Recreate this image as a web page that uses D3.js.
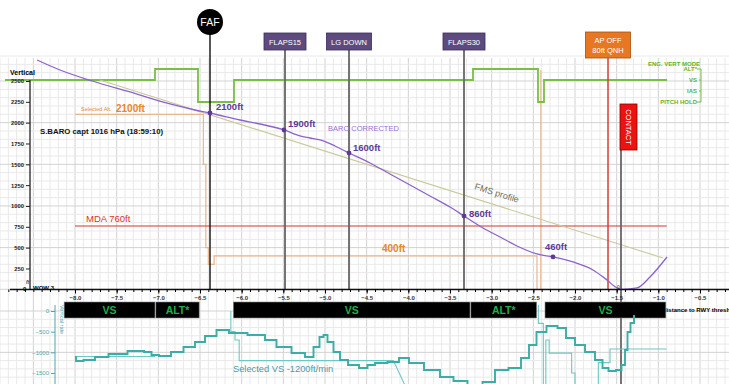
<!DOCTYPE html>
<html>
<head>
<meta charset="utf-8">
<script src="https://cdn.jsdelivr.net/npm/d3@7"></script>
<style>
  body { margin: 0; background: #fff; }
  svg { display: block; font-family: "Liberation Sans", Arial, sans-serif; }
</style>
</head>
<body>
<div id="chart"></div>
<script>
// ---- data ----
// BARO corrected altitude (ft) vs distance to RWY threshold (NM)
const baroDist = [-8.456, -8.18, -7.796, -7.34, -6.86, -6.56, -6.38, -6.02, -5.78, -5.492, -5.30, -5.18, -5.06, -4.88, -4.712, -4.46, -4.22, -3.98, -3.74, -3.50, -3.332, -3.104, -2.90, -2.696, -2.456, -2.264, -2.024, -1.784, -1.616, -1.496, -1.424, -1.256, -1.10, -0.896];
const baroAlt = [2752, 2632, 2500, 2368, 2224, 2152, 2116, 2032, 1984, 1912, 1840, 1816, 1792, 1720, 1636, 1516, 1384, 1252, 1120, 988, 880, 736, 628, 520, 424, 388, 328, 232, 112, 16, 0, 16, 148, 388];

const markDist = [-6.38, -5.492, -4.712, -3.332, -2.264];
const markAlt = [2116, 1912, 1636, 880, 388];
const markLabel = ["2100ft", "1900ft", "1600ft", "860ft", "460ft"];

const fmsDist = [-7.70, -0.944];
const fmsAlt = [2512, 376];

const selAltDist = [-8.0, -6.46, -6.46, -6.43, -6.43, -6.40, -6.40, -6.33, -6.33, -2.456, -2.456];
const selAltFt = [2100, 2100, 1500, 1500, 500, 500, 300, 300, 400, 400, 0];
const selAlt2Dist = [-2.41, -2.41];
const selAlt2Ft = [0, 2630];

const mdaFt = 760;
const mdaDist = [-8.0, -0.9];

// engaged vertical mode
const modeNames = ["ALT*", "VS", "IAS", "PITCH HOLD"];
const modeStart = [-8.84, -7.04, -6.524, -6.092, -3.224, -2.444, -2.372];
const modeCode = ["VS", "ALT*", "PITCH HOLD", "VS", "ALT*", "PITCH HOLD", "VS"];
const modeEnd = -0.896;

// FMA boxes
const fmaLabel = ["VS", "ALT*", "VS", "ALT*", "VS"];
const fmaStart = [-8.13, -7.03, -6.10, -3.25, -2.36];
const fmaEnd = [-7.04, -6.51, -3.26, -2.46, -0.91];

// events
const eventName = ["FAF", "FLAPS15", "LG DOWN", "FLAPS30", "AP OFF", "CONTACT"];
const eventDist = [-6.38, -5.48, -4.712, -3.332, -1.604, -1.448];

// vertical rate (ft/min)
const vsDist = [-8.0, -7.976, -7.82, -7.70, -7.496, -7.244, -7.10, -7.064, -6.92, -6.776, -6.62, -6.50, -6.38, -6.224, -6.08, -5.78, -5.66, -5.504, -5.30, -5.18, -5.096, -5.036, -5.0, -4.94, -4.856, -4.784, -4.664, -4.52, -4.46, -4.34, -4.16, -4.064, -3.92, -3.704, -3.536, -3.38, -3.20, -3.02, -2.90, -2.696, -2.60, -2.504, -2.42, -2.264, -2.156, -2.06, -1.94, -1.82, -1.70, -1.64, -1.556, -1.46, -1.424, -1.376, -1.364, -1.304, -1.28];
const vsRate = [-1113, -1210, -1186, -1113, -1040, -968, -992, -1065, -1089, -992, -871, -750, -605, -460, -532, -581, -702, -871, -1016, -1113, -871, -629, -581, -750, -992, -1186, -1307, -1379, -1307, -1258, -1234, -1137, -1258, -1428, -1597, -1694, -1912, -1718, -1428, -1379, -1137, -823, -508, -363, -411, -653, -823, -992, -1186, -1379, -1452, -1428, -1307, -944, -508, -290, -121];

const selVsDist = [-8.0, -7.04, NaN, -6.13, -6.13, -6.08, -6.08, -6.03, -6.03, -4.18, -4.04, NaN, -2.44, -2.44, -2.38, -2.38, NaN, -2.35, -2.35, -2.31, -2.31, -2.04, -2.04, -2.0, -2.0, NaN, -1.72, -1.72, -1.58, -1.58, -0.90];
const selVsRate = [-1100, -1100, NaN, 0, -500, -500, -700, -700, -1200, -1200, -1800, NaN, 150, -300, -300, -1800, NaN, -1800, -700, -700, -1020, -1020, -1500, -1500, -1800, NaN, -1800, -1250, -1250, -920, -920];

const distTicks = d3.range(-8, -0.49, 0.5);
const altTicks = d3.range(250, 2501, 250);
const vsTicks = [0, -500, -1000, -1500];

// ---- drawing ----
const W = 729, H = 384;
const svg = d3.select("#chart").append("svg").attr("width", W).attr("height", H);

const x = d3.scaleLinear().domain([-8, -0.5]).range([75, 700]);
const y = d3.scaleLinear().domain([0, 2500]).range([289.3, 81]);
const yv = d3.scaleLinear().domain([0, -1500]).range([311, 373]);
const ym = d3.scalePoint().domain(modeNames).range([69, 102]);

const purple = "#8d62d0", purpleDark = "#5e3a96", green = "#79bf45", tan = "#e6b68e", orange = "#e8862a", red = "#d9342b", teal = "#3aaea6";

// grid
const grid = svg.append("g");
const gx = d3.range(-8.9, -0.05, 0.1);
grid.selectAll(".vg").data(gx).enter().append("line")
  .attr("x1", d => x(d)).attr("x2", d => x(d)).attr("y1", 58).attr("y2", H)
  .attr("stroke", d => Math.abs(Math.round(d * 10) % 5) === 0 ? "#d2d2d2" : "#e9e9e9");
grid.selectAll(".hg").data(d3.range(0, 2801, 100)).enter().append("line")
  .attr("x1", 0).attr("x2", W).attr("y1", d => y(d)).attr("y2", d => y(d))
  .attr("stroke", d => d % 500 === 0 ? "#d2d2d2" : "#e9e9e9");
grid.selectAll(".hv").data(d3.range(-1800, 1, 200)).enter().append("line")
  .attr("x1", 0).attr("x2", W).attr("y1", d => yv(d)).attr("y2", d => yv(d))
  .attr("stroke", d => d % 1000 === 0 ? "#d2d2d2" : "#e9e9e9");

// selected altitude
const altLine = d3.line().defined(d => !isNaN(d[0])).x(d => x(d[0])).y(d => y(d[1]));
svg.append("path").attr("d", altLine(d3.zip(selAltDist, selAltFt)))
  .attr("fill", "none").attr("stroke", tan).attr("stroke-width", 1.2);
svg.append("path").attr("d", altLine(d3.zip(selAlt2Dist, selAlt2Ft)))
  .attr("fill", "none").attr("stroke", tan).attr("stroke-width", 1.2);

// engaged vertical mode line
const modePts = modeStart.map((s, i) => [s, modeCode[i]]).concat([[modeEnd, modeCode[modeCode.length - 1]]]);
svg.append("path")
  .attr("d", d3.line().curve(d3.curveStepAfter).x(d => x(d[0])).y(d => ym(d[1]))(modePts))
  .attr("fill", "none").attr("stroke", green).attr("stroke-width", 1.8);

// MDA
svg.append("line").attr("x1", x(mdaDist[0])).attr("x2", x(mdaDist[1]))
  .attr("y1", y(mdaFt)).attr("y2", y(mdaFt)).attr("stroke", red).attr("stroke-width", 1.2);
svg.append("text").attr("x", 86).attr("y", y(mdaFt) - 4).attr("fill", red)
  .attr("font-size", 9.5).text("MDA " + mdaFt + "ft");

// FMS profile
svg.append("line").attr("x1", x(fmsDist[0])).attr("y1", y(fmsAlt[0]))
  .attr("x2", x(fmsDist[1])).attr("y2", y(fmsAlt[1]))
  .attr("stroke", "#c9c99a").attr("stroke-width", 1.1);
const fa = Math.atan2(y(fmsAlt[1]) - y(fmsAlt[0]), x(fmsDist[1]) - x(fmsDist[0])) * 180 / Math.PI;
svg.append("text").attr("transform", `translate(474,189) rotate(${fa})`)
  .attr("fill", "#6f6f55").attr("font-size", 9).text("FMS profile");

// event lines
const evColor = ["#111", "#666", "#666", "#666", "#d9342b", "#666"];
const evTop = [34, 50, 50, 50, 58, 150];
const evBot = [289, 289, 289, 289, 289, H];
svg.selectAll(".ev").data(eventDist).enter().append("line")
  .attr("x1", d => x(d)).attr("x2", d => x(d))
  .attr("y1", (d, i) => evTop[i]).attr("y2", (d, i) => evBot[i])
  .attr("stroke", (d, i) => evColor[i]).attr("stroke-width", (d, i) => i === 0 || i === 4 ? 1.4 : 1.8);

// BARO curve
svg.append("path")
  .attr("d", d3.line().curve(d3.curveMonotoneX).x(d => x(d[0])).y(d => y(d[1]))(d3.zip(baroDist, baroAlt)))
  .attr("fill", "none").attr("stroke", purple).attr("stroke-width", 1.3);
svg.selectAll(".mk").data(markDist).enter().append("circle")
  .attr("cx", d => x(d)).attr("cy", (d, i) => y(markAlt[i])).attr("r", 2.4).attr("fill", purpleDark);
const mkDx = [6, 4, 4, 5, -8], mkDy = [-3, -3, -2, 1, -7];
svg.selectAll(".ml").data(markLabel).enter().append("text")
  .attr("x", (d, i) => x(markDist[i]) + mkDx[i]).attr("y", (d, i) => y(markAlt[i]) + mkDy[i])
  .attr("fill", purpleDark).attr("font-size", 9.5).attr("font-weight", "bold").text(d => d);
svg.append("text").attr("x", 328).attr("y", 131).attr("fill", "#9b6fd6")
  .attr("font-size", 7.5).text("BARO CORRECTED");
svg.append("text").attr("x", 617).attr("y", 289).attr("fill", "#333").attr("font-size", 5).text("0");

// texts
svg.append("text").attr("x", 81).attr("y", 111).attr("fill", orange).attr("font-size", 5.5).text("Selected Alt.");
svg.append("text").attr("x", 116).attr("y", 112).attr("fill", orange).attr("font-size", 10).attr("font-weight", "bold").text("2100ft");
svg.append("text").attr("x", 382).attr("y", 252).attr("fill", orange).attr("font-size", 10).attr("font-weight", "bold").text("400ft");
svg.append("text").attr("x", 40).attr("y", 134).attr("fill", "#111").attr("font-size", 7.8).attr("font-weight", "bold")
  .text("S.BARO capt 1016 hPa (18:59:10)");

// mode legend
const ml = svg.append("g").attr("fill", "#5cb32e").attr("font-size", 6).attr("font-weight", "bold").attr("text-anchor", "end");
ml.append("text").attr("x", 700).attr("y", 66).text("ENG. VERT MODE");
ml.selectAll(".mn").data(modeNames).enter().append("text")
  .attr("x", 697).attr("y", d => ym(d) + 2.2).text(d => d);
svg.append("path").attr("d", `M697,${ym("ALT*")}H701V${ym("PITCH HOLD")}H697M699,${ym("VS")}H701M699,${ym("IAS")}H701`)
  .attr("fill", "none").attr("stroke", green).attr("stroke-width", 1);

// upper y axis
const ya = svg.append("g").attr("transform", "translate(30,0)")
  .call(d3.axisLeft(y).tickValues(altTicks).tickSize(4).tickPadding(2).tickFormat(d3.format("d")));
ya.select(".domain").remove();
ya.selectAll("text").attr("font-size", 5.8).attr("font-weight", "bold").attr("fill", "#222");
ya.selectAll("line").attr("stroke", "#222");
svg.append("line").attr("x1", 30).attr("x2", 30).attr("y1", 80).attr("y2", 290).attr("stroke", "#222").attr("stroke-width", 1.3);
svg.append("text").attr("x", 10).attr("y", 75).attr("font-size", 7).attr("font-weight", "bold").text("Vertical");
svg.append("text").attr("x", 26).attr("y", 284).attr("font-size", 5.5).attr("font-style", "italic").text("ft");
svg.append("text").attr("x", 23).attr("y", 291).attr("font-size", 6).attr("font-weight", "bold").text("0");
svg.append("text").attr("x", 33).attr("y", 290).attr("font-size", 6).attr("font-weight", "bold").text("WOW 3");

// x axis
svg.append("line").attr("x1", 10).attr("x2", W).attr("y1", 289.5).attr("y2", 289.5).attr("stroke", "#111").attr("stroke-width", 1.6);
const xm = svg.append("g").attr("transform", "translate(0,289.5)")
  .call(d3.axisBottom(x).tickValues(d3.range(-8.8, -0.05, 0.1)).tickSize(2.5).tickFormat(""));
xm.select(".domain").remove();
const xa = svg.append("g").attr("transform", "translate(0,289.5)")
  .call(d3.axisBottom(x).tickValues(distTicks).tickSize(4).tickPadding(2).tickFormat(d3.format(".1f")));
xa.select(".domain").remove();
xa.selectAll("text").attr("font-size", 6).attr("font-weight", "bold").attr("fill", "#333");

// distance label then FMA boxes
svg.append("text").attr("x", 663).attr("y", 312).attr("font-size", 6).attr("font-weight", "bold").text("distance to RWY thresh");
const fma = svg.selectAll(".fma").data(fmaLabel).enter().append("g");
fma.append("rect").attr("x", (d, i) => x(fmaStart[i])).attr("width", (d, i) => x(fmaEnd[i]) - x(fmaStart[i]))
  .attr("y", 302).attr("height", 16).attr("fill", "#000").attr("stroke", "#888").attr("stroke-width", 0.6);
fma.append("text").attr("x", (d, i) => (x(fmaStart[i]) + x(fmaEnd[i])) / 2).attr("y", 314)
  .attr("text-anchor", "middle").attr("fill", "#1fae4a").attr("font-size", 10.5).attr("font-weight", "bold").text(d => d);

// lower chart
svg.append("clipPath").attr("id", "lowclip").append("rect").attr("x", 0).attr("y", 300).attr("width", W).attr("height", H - 300);
const low = svg.append("g").attr("clip-path", "url(#lowclip)");
const vsLine = d3.line().defined(d => !isNaN(d[0])).x(d => x(d[0])).y(d => yv(d[1]));
low.append("path").attr("d", vsLine(d3.zip(selVsDist, selVsRate)))
  .attr("fill", "none").attr("stroke", "#6cc9c2").attr("stroke-width", 1.1);
low.append("path").attr("d", vsLine.curve(d3.curveStep)(d3.zip(vsDist, vsRate)))
  .attr("fill", "none").attr("stroke", teal).attr("stroke-width", 1.9);

const va = svg.append("g").attr("transform", "translate(55,0)")
  .call(d3.axisLeft(yv).tickValues(vsTicks).tickSize(4).tickPadding(2).tickFormat(d3.format("d")));
va.select(".domain").remove();
va.selectAll("text").attr("font-size", 6).attr("fill", "#4aa8ae");
va.selectAll("line").attr("stroke", "#4aa8ae");
svg.append("line").attr("x1", 55).attr("x2", 55).attr("y1", 305).attr("y2", H).attr("stroke", "#4aa8ae");
svg.append("text").attr("transform", "translate(60,305) rotate(90)").attr("font-size", 5.5).attr("fill", "#4aa8ae").text("Vertical rate");
svg.append("text").attr("x", 233).attr("y", 372).attr("font-size", 9.3).attr("fill", "#4a9aa6").text("Selected VS -1200ft/min");

// event labels on top
const boxEv = [1, 2, 3];
boxEv.forEach(i => {
  const cx = x(eventDist[i]);
  const w = i === 2 ? 45 : 42;
  svg.append("rect").attr("x", cx - w / 2).attr("y", 33).attr("width", w).attr("height", 17)
    .attr("fill", "#5d4b80").attr("stroke", "#3b2d58").attr("stroke-width", 0.8);
  svg.append("text").attr("x", cx).attr("y", 44.5).attr("text-anchor", "middle")
    .attr("fill", "#fff").attr("font-size", 7.5).text(eventName[i]);
});
svg.append("circle").attr("cx", x(eventDist[0])).attr("cy", 22).attr("r", 13).attr("fill", "#000");
svg.append("text").attr("x", x(eventDist[0])).attr("y", 26).attr("text-anchor", "middle")
  .attr("fill", "#fff").attr("font-size", 10.5).text(eventName[0]);

const apx = x(eventDist[4]);
svg.append("rect").attr("x", apx - 22.5).attr("y", 32).attr("width", 45).attr("height", 26)
  .attr("fill", "#e87722").attr("stroke", "#a4520f").attr("stroke-width", 0.8);
svg.append("text").attr("x", apx).attr("y", 43).attr("text-anchor", "middle").attr("fill", "#fff").attr("font-size", 7.5).text(eventName[4]);
svg.append("text").attr("x", apx).attr("y", 53).attr("text-anchor", "middle").attr("fill", "#fff").attr("font-size", 7.5).text("80ft QNH");

const ctx = x(eventDist[5]);
svg.append("rect").attr("x", ctx - 1).attr("y", 104).attr("width", 17).attr("height", 46)
  .attr("fill", "#ee1111").attr("stroke", "#8a0000").attr("stroke-width", 0.8);
svg.append("text").attr("transform", `translate(${ctx + 5},127) rotate(90)`).attr("text-anchor", "middle")
  .attr("fill", "#fff").attr("font-size", 7.5).text(eventName[5]);
</script>
</body>
</html>
